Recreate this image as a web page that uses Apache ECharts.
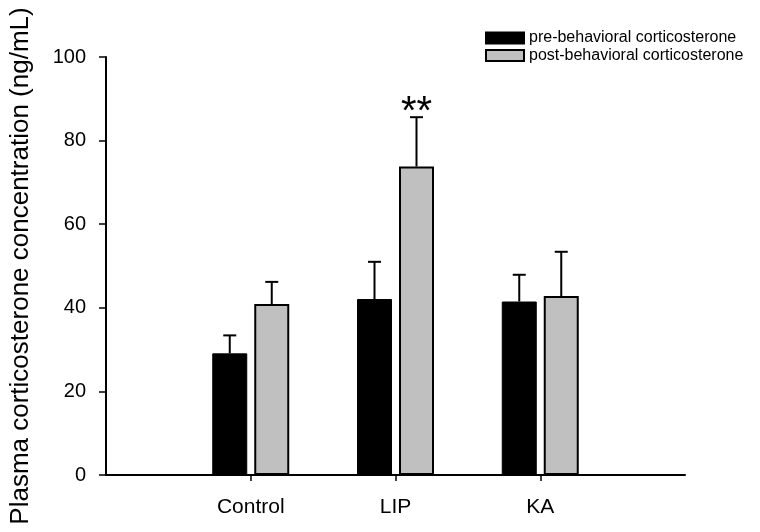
<!DOCTYPE html>
<html>
<head>
<meta charset="utf-8">
<script src="https://cdn.jsdelivr.net/npm/echarts@6/dist/echarts.min.js"></script>
<style>html,body{margin:0;padding:0;background:#fff}#c{width:760px;height:532px}</style>
</head>
<body>
<div id="c"></div>
<script>
const categories = ['Control', 'LIP', 'KA'];
const preValues = [29.1, 42.1, 41.5];
const preErrors = [4.3, 8.9, 6.4];
const postValues = [40.9, 73.8, 42.8];
const postErrors = [5.3, 11.8, 10.6];
const annotations = ['', '**', ''];
const seriesNames = ['pre-behavioral corticosterone', 'post-behavioral corticosterone'];
const yTicks = [0, 20, 40, 60, 80, 100];

const FONT = '"Liberation Sans", Arial, sans-serif';
const axisCats = [''].concat(categories).concat(['']);
const pad = arr => [null].concat(arr).concat([null]);

function errData(vals, errs, notes) {
  return vals.map((v, i) => [i + 1, v, errs[i], notes ? notes[i] : '']);
}
function errRender(offset) {
  return function (params, api) {
    const idx = api.value(0), val = api.value(1), err = api.value(2);
    const note = api.value(3);
    const p0 = api.coord([idx, val]);
    const p1 = api.coord([idx, val + err]);
    const x = p0[0] + offset;
    const children = [
      { type: 'line', shape: { x1: x, y1: p0[1], x2: x, y2: p1[1] }, style: { stroke: '#000', lineWidth: 2 } },
      { type: 'line', shape: { x1: x - 6.5, y1: p1[1], x2: x + 6.5, y2: p1[1] }, style: { stroke: '#000', lineWidth: 2 } }
    ];
    if (note && note !== '' && note !== '-' && note !== 0) {
      children.push({ type: 'text', style: { text: String(note), x: x, y: p1[1] - 24, textAlign: 'center', textVerticalAlign: 'top', font: '40px ' + FONT, fill: '#000' } });
    }
    return { type: 'group', children: children };
  };
}

const chart = echarts.init(document.getElementById('c'), null, { renderer: 'canvas' });
chart.setOption({
  animation: false,
  backgroundColor: '#fff',
  textStyle: { fontFamily: FONT },
  grid: { left: 103, right: 75, top: 57, bottom: 57, containLabel: false },
  legend: {
    data: seriesNames,
    orient: 'vertical',
    left: 480,
    top: 25,
    itemWidth: 38,
    itemHeight: 11,
    itemGap: 1.5,
    icon: 'rect',
    textStyle: { fontSize: 16, color: '#000', fontFamily: FONT }
  },
  xAxis: {
    type: 'category',
    data: axisCats,
    boundaryGap: false,
    axisLine: { lineStyle: { color: '#000', width: 2 } },
    axisTick: { show: true, length: 6, lineStyle: { color: '#000', width: 1.5 }, interval: (i) => i >= 1 && i <= categories.length },
    axisLabel: { color: '#000', fontSize: 21, margin: 22, fontFamily: FONT, interval: 0 },
    splitLine: { show: false }
  },
  yAxis: {
    type: 'value',
    min: yTicks[0],
    max: yTicks[yTicks.length - 1],
    interval: yTicks[1] - yTicks[0],
    name: 'Plasma corticosterone concentration (ng/mL)',
    nameLocation: 'middle',
    nameGap: 72,
    nameTextStyle: { color: '#000', fontSize: 26, fontFamily: FONT },
    axisLine: { show: true, lineStyle: { color: '#000', width: 2 } },
    axisTick: { show: true, length: 7, lineStyle: { color: '#000', width: 1.5 } },
    axisLabel: { color: '#000', fontSize: 20, margin: 20, fontFamily: FONT },
    splitLine: { show: false }
  },
  series: [
    {
      name: seriesNames[0], type: 'bar', data: pad(preValues),
      barWidth: 35, barGap: '20%',
      itemStyle: { color: '#000', borderColor: '#000', borderWidth: 1 }
    },
    {
      name: seriesNames[1], type: 'bar', data: pad(postValues),
      barWidth: 35, barGap: '20%',
      itemStyle: { color: '#c0c0c0', borderColor: '#000', borderWidth: 2 }
    },
    {
      name: 'preErr', type: 'custom', renderItem: errRender(-21),
      encode: { x: 0, y: 1 }, data: errData(preValues, preErrors), z: 5
    },
    {
      name: 'postErr', type: 'custom', renderItem: errRender(21),
      encode: { x: 0, y: 1 }, data: errData(postValues, postErrors, annotations), z: 5
    }
  ]
});
</script>
</body>
</html>
